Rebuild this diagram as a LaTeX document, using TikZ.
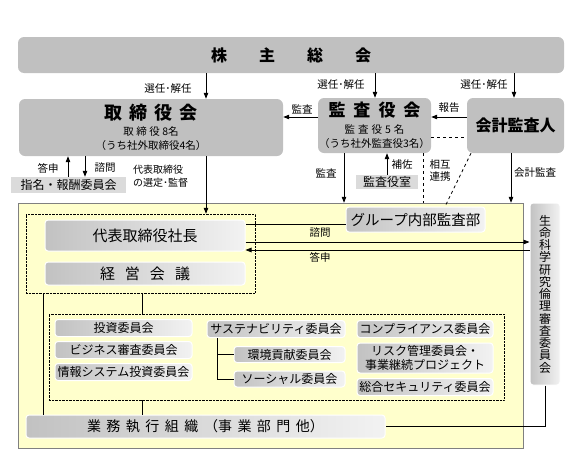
\documentclass[tikz,border=0pt]{standalone}
\usepackage{fontspec}
\setmainfont{Noto Sans CJK JP}
\usetikzlibrary{arrows.meta}
\definecolor{boxgray}{RGB}{192,192,192}
\definecolor{paleyellow}{RGB}{255,255,204}

\begin{document}
\begin{tikzpicture}[x=1pt,y=-1pt,>={Triangle[length=6pt,width=4.5pt]},
		topbox/.style={rounded corners=6pt,fill=boxgray,inner sep=0pt,align=center},
		subbox/.style={rounded corners=3pt,left color=black!24,right color=black!5,draw=white,line width=1pt,inner sep=0pt,align=center,font=\fontsize{12}{14}\selectfont},
		flatbox/.style={fill=black!14,inner sep=0pt,font=\fontsize{12}{14}\selectfont},
		grpbox/.style={draw,densely dotted,inner sep=0pt},
		lbl/.style={inner sep=0pt,font=\fontsize{10.5}{12}\selectfont}]
		\useasboundingbox (0,0) rectangle (572,450);
			\node (shikko) at (270.5,325.5) [draw=gray,fill=paleyellow,minimum width=505pt,minimum height=245pt] {};
			\node (keieigrp) at (140.5,253.5) [grpbox,minimum width=229pt,minimum height=79pt] {};
			\node (iinkaigrp) at (276.5,357) [grpbox,minimum width=455pt,minimum height=86pt] {};

			\begin{scope}[every node/.style={topbox}]
	    		\node (soukai) at (291,55) [minimum width=546pt,minimum height=36pt,font=\fontsize{16}{18}\selectfont\bfseries] {株\hspace{32pt}主\hspace{32pt}総\hspace{32pt}会};
	    		\node (tori) at (151,127.5) [minimum width=264pt,minimum height=57pt,font=\fontsize{10.5}{14}\selectfont] {{\fontsize{18}{18}\selectfont\bfseries 取\hspace{7pt}締\hspace{7pt}役\hspace{7pt}会}\\[1.5pt]取\hspace{2.5pt}締\hspace{2.5pt}役\hspace{2.5pt}8名\\（うち社外取締役4名）};
	    		\node (kansa) at (374.5,125.5) [minimum width=113pt,minimum height=55pt,font=\fontsize{10.5}{14}\selectfont] {{\fontsize{17}{17}\selectfont\bfseries 監\hspace{8pt}査\hspace{8pt}役\hspace{8pt}会}\\[3pt]監\hspace{3pt}査\hspace{3pt}役\hspace{3pt}5\hspace{3pt}名\\（うち社外監査役3名）};
	    		\node (kaikei) at (515.5,125.5) [minimum width=97pt,minimum height=55pt,font=\fontsize{16}{18}\selectfont\bfseries] {会計監査人};
			\end{scope}
			\begin{scope}[every node/.style={flatbox}]
	    		\node (shimei) at (68.5,185) [minimum width=115pt,minimum height=16pt] {指名・報酬委員会};
	    		\node (kansashitsu) at (387,182) [minimum width=62pt,minimum height=14pt] {監査役室};
			\end{scope}
			\begin{scope}[every node/.style={subbox}]
	    		\node (shacho) at (145,235.5) [minimum width=200pt,minimum height=31pt,font=\fontsize{15}{17}\selectfont] {代表取締役社長};
	    		\node (keiei) at (145,273.5) [minimum width=200pt,minimum height=23pt,font=\fontsize{15}{17}\selectfont] {経\hspace{10pt}営\hspace{10pt}会\hspace{10pt}議};
	    		\node (naibu) at (415.5,219.5) [minimum width=139pt,minimum height=25pt,font=\fontsize{14.5}{16}\selectfont] {グループ内部監査部};
	    		\node (rinri) at (545,294) [minimum width=30pt,minimum height=182pt,font=\fontsize{12}{12.25}\selectfont] {生\\命\\科\\学\\研\\究\\倫\\理\\審\\査\\委\\員\\会};
	    		\node (toushi) at (123.5,328) [minimum width=137pt,minimum height=17pt] {投資委員会};
	    		\node (business) at (123.5,350) [minimum width=137pt,minimum height=17pt] {ビジネス審査委員会};
	    		\node (joho) at (123.5,372) [minimum width=137pt,minimum height=17pt] {情報システム投資委員会};
	    		\node (susta) at (276,329) [minimum width=138pt,minimum height=17pt] {サステナビリティ委員会};
	    		\node (kankyo) at (289.5,354.5) [minimum width=111pt,minimum height=16pt] {環境貢献委員会};
	    		\node (social) at (289.5,379) [minimum width=111pt,minimum height=16pt] {ソーシャル委員会};
	    		\node (compliance) at (425,329) [minimum width=136pt,minimum height=17pt] {コンプライアンス委員会};
	    		\node (risk) at (425,358) [minimum width=136pt,minimum height=30pt] {リスク管理委員会・\\事業継続プロジェクト};
	    		\node (security) at (425,387) [minimum width=136pt,minimum height=17pt] {総合セキュリティ委員会};
	    		\node (gyomu) at (205.5,426.5) [minimum width=359pt,minimum height=23pt,font=\fontsize{14}{16}\selectfont] {業\hspace{5.5pt}務\hspace{5.5pt}執\hspace{5.5pt}行\hspace{5.5pt}組\hspace{5.5pt}織\hspace{5.5pt}（事\hspace{5.5pt}業\hspace{5.5pt}部\hspace{5.5pt}門\hspace{5.5pt}他）};
			\end{scope}

			\coordinate (selA) at (206,0);
			\coordinate (selB) at (375,0);
			\coordinate (selC) at (514,0);
			\coordinate (kansaY) at (0,117);
			\coordinate (renkeiY) at (0,137);
			\coordinate (renkeiX) at (423,0);
			\coordinate (renkeiP) at (471,0);
			\coordinate (renkeiQ) at (445,0);
			\coordinate (kansaX) at (344,0);
			\coordinate (hosaX) at (387,0);
			\coordinate (kaikeiX) at (511,0);
			\coordinate (toushinX) at (68,0);
			\coordinate (shimonX) at (85,0);
			\coordinate (naibuY) at (0,224);
			\coordinate (shimonY) at (0,242);
			\coordinate (toushinY) at (0,250);
			\coordinate (iinkaiX) at (142,0);
			\coordinate (gyomuX) at (43,0);
			\coordinate (treeX) at (217,0);

			\begin{scope}[every edge/.style={draw=black,thick,->}]
				\path (soukai.south -| selA) edge (tori.north -| selA);
	    		\path (soukai.south -| selB) edge (kansa.north -| selB);
	    		\path (soukai.south -| selC) edge (kaikei.north -| selC);
	    		\path (kansa.west |- kansaY) edge (tori.east |- kansaY);
	    		\path (kaikei.west |- kansaY) edge (kansa.east |- kansaY);
	    		\path (kansa.south -| kansaX) edge (shikko.north -| kansaX);
	    		\path (kansashitsu.north -| hosaX) edge (kansa.south -| hosaX);
	    		\path (kaikei.south -| kaikeiX) edge (shikko.north -| kaikeiX);
	    		\path (shimei.north -| toushinX) edge (tori.south -| toushinX);
	    		\path (tori.south -| shimonX) edge (shimei.north -| shimonX);
	    		\path (tori.south -| selA) edge (keieigrp.north -| selA);
	    		\path (shacho.east |- shimonY) edge (rinri.west |- shimonY);
	    		\path (rinri.west |- toushinY) edge (shacho.east |- toushinY);
			\end{scope}
			\begin{scope}[thick]
				\draw[dashed] (kansa.east |- renkeiY) -- (kaikei.west |- renkeiY);
				\draw[dashed] (kansa.south -| renkeiX) -- (shikko.north -| renkeiX);
				\draw[dashed] (kaikei.south -| renkeiP) -- (naibu.north -| renkeiQ);
				\draw (naibu.west |- naibuY) -- (shacho.east |- naibuY);
				\draw (rinri.south) |- (gyomu.east);
				\draw (keieigrp.south -| iinkaiX) -- (iinkaigrp.north -| iinkaiX);
				\draw (iinkaigrp.south -| iinkaiX) -- (gyomu.north -| iinkaiX);
				\draw (keieigrp.south -| gyomuX) -- (gyomu.north -| gyomuX);
				\draw (susta.south -| treeX) |- (kankyo.west);
				\draw (susta.south -| treeX) |- (social.west);
			\end{scope}

			\begin{scope}[every node/.style={lbl}]
	    		\node (senA) at (168,89) {選任･解任};
	    		\node (senB) at (341,85) {選任･解任};
	    		\node (senC) at (484,85) {選任･解任};
	    		\node (kansaL) at (302,109) {監査};
	    		\node (houkokuL) at (449,108) {報告};
	    		\node (kansaD) at (326,173) {監査};
	    		\node (hosaL) at (402,165) {補佐};
	    		\node (renkeiL) at (440,171) [align=left] {相互\\連携};
	    		\node (kaikeiL) at (535,173) {会計監査};
	    		\node (toushinL) at (48,168) {答申};
	    		\node (shimonL) at (105,168) {諮問};
	    		\node (senteiL) at (133,176.5) [anchor=west,align=left,font=\fontsize{10}{13}\selectfont] {代表取締役\\の選定･監督};
	    		\node (shimonR) at (320,233) {諮問};
	    		\node (toushinR) at (320,257) {答申};
			\end{scope}
		\end{tikzpicture}
\end{document}
